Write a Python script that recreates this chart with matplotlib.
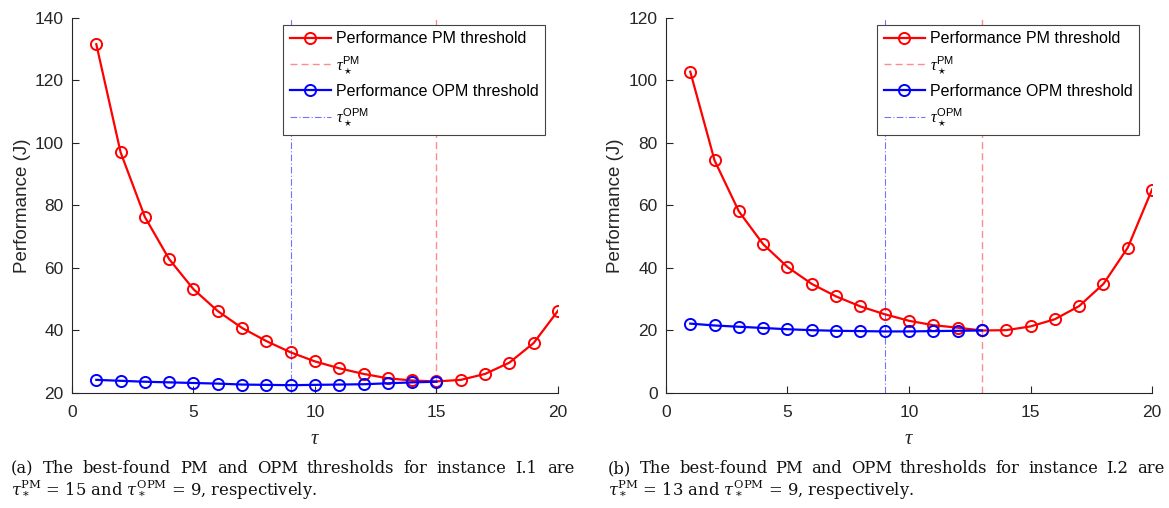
import matplotlib
matplotlib.use("Agg")
import matplotlib.pyplot as plt

tau = list(range(1, 21))
pm_a = [131.6, 97.0, 76.3, 62.8, 53.2, 46.2, 40.8, 36.6, 33.0, 30.1,
        27.9, 26.1, 24.7, 24.0, 23.7, 24.2, 26.1, 29.7, 36.0, 46.3]
opm_a = [24.2, 23.9, 23.6, 23.4, 23.2, 23.0, 22.7, 22.6, 22.5, 22.6,
         22.7, 22.8, 23.1, 23.4, 23.6]
pm_b = [102.8, 74.4, 58.1, 47.6, 40.3, 34.9, 30.9, 27.7, 25.2, 23.1,
        21.7, 20.9, 20.0, 20.1, 21.3, 23.6, 27.8, 34.9, 46.5, 65.1]
opm_b = [22.2, 21.6, 21.2, 20.8, 20.4, 20.1, 19.9, 19.8, 19.7, 19.7,
         19.8, 19.9, 20.0]
best_a = (15, 9)
best_b = (13, 9)
ylims = [(20, 140), (0, 120)]
yticks = [[20, 40, 60, 80, 100, 120, 140], [0, 20, 40, 60, 80, 100, 120]]
xticks = [0, 5, 10, 15, 20]
captions = [
    ("(a) The best-found PM and OPM thresholds for instance I.1 are",
     r"$\tau_*^{\rm PM}$ = 15 and $\tau_*^{\rm OPM}$ = 9, respectively."),
    ("(b) The best-found PM and OPM thresholds for instance I.2 are",
     r"$\tau_*^{\rm PM}$ = 13 and $\tau_*^{\rm OPM}$ = 9, respectively."),
]

plt.rcParams['font.family'] = ['Liberation Sans', 'DejaVu Sans']
plt.rcParams['mathtext.fontset'] = 'custom'
plt.rcParams['mathtext.it'] = 'Liberation Serif:italic'
plt.rcParams['mathtext.rm'] = 'Liberation Sans'

fig = plt.figure(figsize=(11.69, 5.08), dpi=100)
axpos = [[0.0616, 0.2264, 0.4157, 0.7382], [0.5697, 0.2264, 0.4158, 0.7382]]
data = [(pm_a, opm_a, best_a), (pm_b, opm_b, best_b)]
tick_col = '#262626'
red_l = (1.0, 0.55, 0.55)
blue_l = (0.45, 0.45, 1.0)

for i, (pm, opm, best) in enumerate(data):
    ax = fig.add_axes(axpos[i])
    ax.plot(tau, pm, color='red', lw=1.6, marker='o', ms=8, mfc='none', mew=1.4,
            label='Performance PM threshold', zorder=3)
    ax.axvline(best[0], color=red_l, lw=1.0, ls=(0, (5, 3)), label=r'$\tau_\star^{\rm PM}$', zorder=1)
    ax.plot(tau[:len(opm)], opm, color='blue', lw=1.6, marker='o', ms=8, mfc='none', mew=1.4,
            label='Performance OPM threshold', zorder=4)
    ax.axvline(best[1], color=blue_l, lw=0.8, ls=(0, (6, 2, 1, 2)), label=r'$\tau_\star^{\rm OPM}$', zorder=1)
    ax.set_xlim(0, 20)
    ax.set_ylim(*ylims[i])
    ax.set_xticks(xticks)
    ax.set_yticks(yticks[i])
    for s in ['top', 'right']:
        ax.spines[s].set_visible(False)
    for s in ['left', 'bottom']:
        ax.spines[s].set_color(tick_col)
        ax.spines[s].set_linewidth(0.8)
    ax.tick_params(direction='in', length=5, width=0.8, colors=tick_col, labelsize=12.5)
    ax.tick_params(axis='x', pad=9)
    ax.tick_params(axis='y', pad=6)
    ax.set_ylabel('Performance (J)', fontsize=13.5, color=tick_col, labelpad=3)
    ax.set_xlabel(r'$\tau$', fontsize=15, color=tick_col, labelpad=6)
    leg = ax.legend(loc='upper right', bbox_to_anchor=(0.98, 0.99), fontsize=11.5,
                    frameon=True, fancybox=False, edgecolor='#444444', framealpha=1,
                    handlelength=2.6, handletextpad=0.3, borderpad=0.4, labelspacing=0.5,
                    borderaxespad=0.2)
    leg.get_frame().set_linewidth(0.8)

# captions with justified first line
fig.canvas.draw()
renderer = fig.canvas.get_renderer()
cap_x = [[11, 574], [608, 1164]]
W, H = fig.get_size_inches() * fig.dpi
serif = {'family': ['DejaVu Serif'], 'size': 11.8}
for i, (l1, l2) in enumerate(captions):
    words = l1.split(' ')
    texts = []
    for w in words:
        t = fig.text(0, 1 - 473 / H, w, fontdict=serif, va='baseline', ha='left', color='#111111')
        texts.append(t)
    widths = [t.get_window_extent(renderer).width for t in texts]
    total = cap_x[i][1] - cap_x[i][0]
    gap = (total - sum(widths)) / (len(words) - 1)
    x = cap_x[i][0]
    for t, w in zip(texts, widths):
        t.set_x(x / W)
        x += w + gap
    fig.text(cap_x[i][0] / W, 1 - 495 / H, l2,
             fontdict=serif, va='baseline', ha='left', color='#111111',
             math_fontfamily='dejavuserif')

fig.savefig('out.png', dpi=100)
